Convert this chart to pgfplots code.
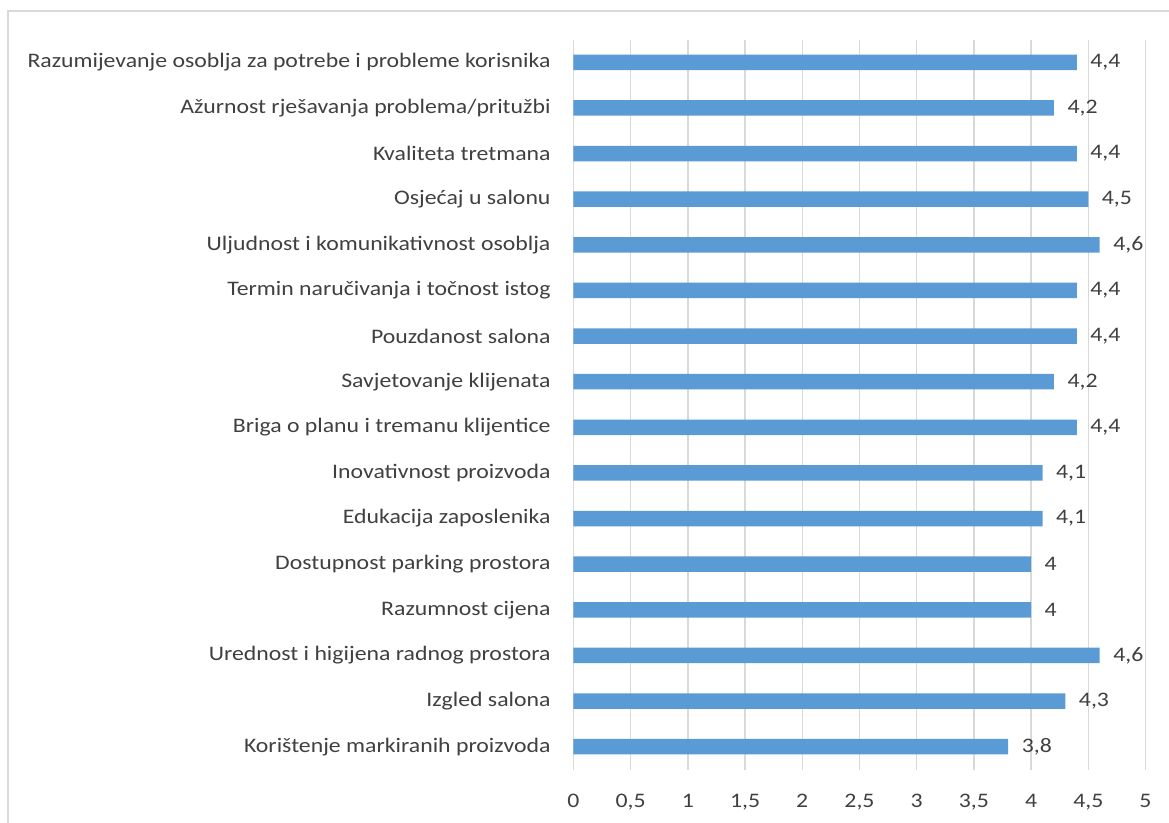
\documentclass[border=0pt]{standalone}
\usepackage{pgfplots}
\pgfplotsset{compat=1.18}
\usepackage{fontspec}
\setmainfont{Carlito}[FakeStretch=1.15]
\definecolor{barblue}{HTML}{5B9BD5}
\definecolor{gridgray}{HTML}{D9D9D9}
\definecolor{txt}{HTML}{404040}
\begin{document}
\begin{tikzpicture}
\useasboundingbox (0,0) rectangle (876.75pt,617.25pt);
\draw[gridgray, line width=1.5pt] (6.2pt,-2pt) -- (6.2pt,609pt) -- (880pt,609pt);
\begin{axis}[
  at={(430.1pt,40.1pt)}, anchor=south west,
  scale only axis, width=429pt, height=547.5pt,
  xbar, bar width=11.6pt,
  xmin=0, xmax=5, xtick={0,0.5,...,5},
  ymin=-0.5, ymax=15.5, ytick={0,...,15},
  yticklabels={Korištenje markiranih proizvoda, Izgled salona, Urednost i higijena radnog prostora, Razumnost cijena, Dostupnost parking prostora, Edukacija zaposlenika, Inovativnost proizvoda, Briga o planu i tremanu klijentice, Savjetovanje klijenata, Pouzdanost salona, Termin naručivanja i točnost istog, Uljudnost i komunikativnost osoblja, Osjećaj u salonu, Kvaliteta tretmana, Ažurnost rješavanja problema/pritužbi, Razumijevanje osoblja za potrebe i probleme korisnika},
  axis line style={draw=none},
  major tick length=0pt,
  xmajorgrids, grid style={gridgray, line width=1.1pt},
  /pgf/number format/.cd, use comma, assume math mode=true,
  /pgfplots/.cd,
  tick label style={font=\fontsize{15.5pt}{18pt}\selectfont, text=txt},
  yticklabel style={inner sep=0pt, xshift=-17pt},
  xticklabel style={inner sep=0pt, yshift=-18pt},
  nodes near coords,
  nodes near coords style={font=\fontsize{15.5pt}{18pt}\selectfont, text=txt, anchor=west, inner sep=0pt, xshift=10pt, /pgf/number format/.cd, use comma, assume math mode=true},
]
\addplot[fill=barblue, draw=none] coordinates {
(3.8,0) (4.3,1) (4.6,2) (4,3) (4,4) (4.1,5) (4.1,6) (4.4,7) (4.2,8) (4.4,9) (4.4,10) (4.6,11) (4.5,12) (4.4,13) (4.2,14) (4.4,15)
};
\end{axis}
\end{tikzpicture}
\end{document}
